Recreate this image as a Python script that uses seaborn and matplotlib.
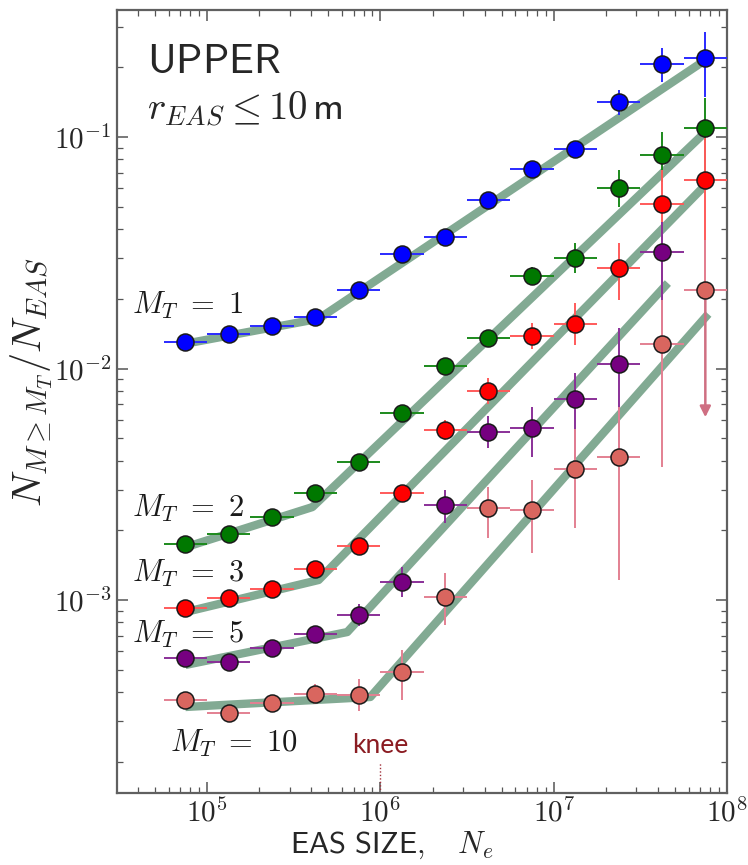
import numpy as np
import pandas as pd
import matplotlib
matplotlib.use("Agg")
import matplotlib.pyplot as plt
import seaborn as sns
from matplotlib.ticker import LogLocator, FuncFormatter, NullFormatter

# ---- data -------------------------------------------------------------
# EAS size bins: centres and edges
ne_centres = [7.5e4, 1.33e5, 2.37e5, 4.2e5, 7.5e5, 1.33e6, 2.37e6,
              4.2e6, 7.5e6, 1.33e7, 2.37e7, 4.2e7, 7.5e7]
ne_edges = [5.62e4, 1.0e5, 1.78e5, 3.16e5, 5.62e5, 1.0e6, 1.78e6,
            3.16e6, 5.62e6, 1.0e7, 1.78e7, 3.16e7, 5.62e7, 1.0e8]

# fraction of showers with multiplicity >= M_T, with error-bar ends
mt1_y = [0.0130, 0.0141, 0.0153, 0.0167, 0.0218, 0.0313, 0.0370,
         0.0535, 0.0728, 0.0888, 0.1416, 0.2066, 0.2193]
mt1_lo = [0.0127, 0.0138, 0.0150, 0.0163, 0.0212, 0.0304, 0.0358,
          0.0516, 0.0700, 0.0836, 0.1244, 0.1727, 0.1487]
mt1_hi = [0.0133, 0.0144, 0.0156, 0.0171, 0.0224, 0.0322, 0.0382,
          0.0555, 0.0757, 0.0943, 0.1596, 0.2430, 0.2840]

mt2_y = [1.75e-3, 1.93e-3, 2.29e-3, 2.90e-3, 3.95e-3, 6.43e-3, 1.026e-2,
         1.355e-2, 2.51e-2, 3.00e-2, 6.02e-2, 8.36e-2, 0.109]
mt2_lo = [1.70e-3, 1.87e-3, 2.22e-3, 2.81e-3, 3.83e-3, 6.20e-3, 9.8e-3,
          1.27e-2, 2.30e-2, 2.58e-2, 4.98e-2, 6.40e-2, 6.96e-2]
mt2_hi = [1.80e-3, 1.99e-3, 2.36e-3, 2.99e-3, 4.07e-3, 6.67e-3, 1.075e-2,
          1.45e-2, 2.74e-2, 3.48e-2, 7.20e-2, 0.105, 0.148]

mt3_y = [9.23e-4, 1.02e-3, 1.12e-3, 1.36e-3, 1.71e-3, 2.90e-3, 5.42e-3,
         7.99e-3, 1.38e-2, 1.555e-2, 2.72e-2, 5.14e-2, 6.52e-2]
mt3_lo = [8.95e-4, 9.9e-4, 1.085e-3, 1.31e-3, 1.64e-3, 2.73e-3, 4.91e-3,
          7.02e-3, 1.213e-2, 1.262e-2, 1.98e-2, 1.98e-2, 2.19e-2]
mt3_hi = [9.5e-4, 1.05e-3, 1.155e-3, 1.41e-3, 1.78e-3, 3.08e-3, 5.98e-3,
          9.09e-3, 1.57e-2, 1.916e-2, 3.49e-2, 7.2e-2, 9.9e-2]

mt5_y = [5.61e-4, 5.39e-4, 6.21e-4, 7.13e-4, 8.61e-4, 1.197e-3, 2.57e-3,
         5.32e-3, 5.53e-3, 7.38e-3, 1.045e-2, 3.18e-2]
mt5_lo = [5.35e-4, 5.14e-4, 5.92e-4, 6.70e-4, 7.7e-4, 1.031e-3, 2.15e-3,
          4.54e-3, 4.14e-3, 4.06e-3, 4.23e-3, 1.46e-2]
mt5_hi = [5.88e-4, 5.65e-4, 6.51e-4, 7.60e-4, 9.6e-4, 1.39e-3, 2.98e-3,
          6.24e-3, 6.81e-3, 9.6e-3, 1.495e-2, 4.29e-2]

mt10_y = [3.70e-4, 3.25e-4, 3.59e-4, 3.93e-4, 3.89e-4, 4.89e-4, 1.03e-3,
          2.49e-3, 2.45e-3, 3.68e-3, 4.15e-3, 1.277e-2, 2.18e-2]
mt10_lo = [3.55e-4, 3.12e-4, 3.35e-4, 3.56e-4, 3.32e-4, 3.70e-4, 7.8e-4,
           1.86e-3, 1.60e-3, 2.04e-3, 1.22e-3, 3.76e-3, 6.16e-3]
mt10_hi = [3.86e-4, 3.39e-4, 3.85e-4, 4.34e-4, 4.56e-4, 6.09e-4, 1.31e-3,
           3.07e-3, 3.30e-3, 5.48e-3, 6.8e-3, 1.98e-2, 3.58e-2]

# broken power-law fits: vertices (N_e, fraction)
fit1_x = [7.5e4, 4.4e5, 7.5e7]
fit1_y = [1.28e-2, 1.64e-2, 0.215]
fit2_x = [7.5e4, 4.05e5, 7.5e7]
fit2_y = [1.69e-3, 2.52e-3, 0.105]
fit3_x = [7.5e4, 4.4e5, 7.5e7]
fit3_y = [8.87e-4, 1.22e-3, 6.2e-2]
fit5_x = [7.5e4, 6.44e5, 4.56e7]
fit5_y = [5.24e-4, 7.27e-4, 2.34e-2]
fit10_x = [7.5e4, 8.75e5, 7.8e7]
fit10_y = [3.45e-4, 3.81e-4, 1.72e-2]

labels = [r"$M_T\ =\ 1$", r"$M_T\ =\ 2$", r"$M_T\ =\ 3$",
          r"$M_T\ =\ 5$", r"$M_T\ =\ 10$"]
knee_ne = 1.0e6

# ---- style ------------------------------------------------------------
sns.set_style("ticks")
plt.rcParams["mathtext.fontset"] = "cm"
plt.rcParams["font.family"] = ["DejaVu Sans"]

fig = plt.figure(figsize=(7.48, 8.65), dpi=100)
ax = fig.add_axes([0.1564, 0.0832, 0.8155, 0.9052])
ax.set_xscale("log")
ax.set_yscale("log")

fit_colour = "#82aa93"
series = [
    (mt1_y, mt1_lo, mt1_hi, fit1_x, fit1_y, "#0000ff", "#2a2aff"),
    (mt2_y, mt2_lo, mt2_hi, fit2_x, fit2_y, "#007800", "#1c8a1c"),
    (mt3_y, mt3_lo, mt3_hi, fit3_x, fit3_y, "#ff0000", "#ff5a5a"),
    (mt5_y, mt5_lo, mt5_hi, fit5_x, fit5_y, "#760080", "#8a3098"),
    (mt10_y, mt10_lo, mt10_hi, fit10_x, fit10_y, "#d9665f", "#e38092"),
]

centres = np.array(ne_centres)
edges = np.array(ne_edges)

for y, lo, hi, fx, fy, face, bar in series:
    fit = pd.DataFrame({"ne": fx, "frac": fy})
    sns.lineplot(data=fit, x="ne", y="frac", ax=ax, color=fit_colour,
                 lw=6, sort=False, estimator=None, zorder=2,
                 solid_capstyle="butt")

for idx, (y, lo, hi, fx, fy, face, bar) in enumerate(series):
    n = len(y)
    x = centres[:n]
    y = np.array(y)
    lo = np.array(lo)
    hi = np.array(hi)
    xerr = [x - edges[:n], edges[1:n + 1] - x]
    low_err = y - lo
    if idx == 4:
        # last bin of the highest threshold is an upper limit
        low_err = low_err.copy()
        low_err[-1] = 0.0
        ax.annotate("", xy=(x[-1], lo[-1]), xytext=(x[-1], y[-1]),
                    arrowprops=dict(arrowstyle="-|>", color="#cf6f82",
                                    lw=1.8, mutation_scale=16,
                                    shrinkA=0, shrinkB=0),
                    zorder=3)
    ax.errorbar(x, y, xerr=xerr, yerr=[low_err, hi - y], fmt="none",
                ecolor=bar, elinewidth=1.4, capsize=0, zorder=3)
    pts = pd.DataFrame({"ne": x, "frac": y})
    sns.scatterplot(data=pts, x="ne", y="frac", ax=ax, color=face,
                    s=150, edgecolor="#1a1a1a", linewidth=1.1, zorder=4)

# ---- axes -------------------------------------------------------------
ax.set_xlim(3.02e4, 1.0e8)
ax.set_ylim(1.466e-4, 0.3537)

def pow_label(v, pos):
    return r"$10^{%d}$" % int(round(np.log10(v)))

ax.xaxis.set_major_locator(LogLocator(base=10, numticks=10))
ax.yaxis.set_major_locator(LogLocator(base=10, numticks=10))
ax.xaxis.set_minor_locator(LogLocator(base=10, subs=np.arange(2, 10), numticks=20))
ax.yaxis.set_minor_locator(LogLocator(base=10, subs=np.arange(2, 10), numticks=20))
ax.xaxis.set_major_formatter(FuncFormatter(pow_label))
ax.yaxis.set_major_formatter(FuncFormatter(pow_label))
ax.xaxis.set_minor_formatter(NullFormatter())
ax.yaxis.set_minor_formatter(NullFormatter())

ax.tick_params(which="both", direction="in", top=True, right=True,
               color="#555555")
ax.tick_params(which="major", length=8, width=1.1, labelsize=21, pad=4)
ax.tick_params(which="minor", length=4, width=0.9)
for sp in ax.spines.values():
    sp.set_color("#606060")
    sp.set_linewidth(1.6)

ax.set_xlabel(r"$\mathsf{EAS\ SIZE,}\ \ \ N_e$", fontsize=22)
ax.xaxis.set_label_coords(0.451, -0.047)
ax.set_ylabel(r"$N_{M\geq M_T}/N_{EAS}$", fontsize=29)
ax.yaxis.set_label_coords(-0.102, 0.525)

# ---- annotations --------------------------------------------------------
ax.text(0.049, 0.9195, r"$\mathsf{UPPER}$", transform=ax.transAxes,
        fontsize=30, va="baseline", ha="left")
ax.text(0.049, 0.8595, r"$r_{EAS} \leq 10\,\mathsf{m}$", transform=ax.transAxes,
        fontsize=28, va="baseline", ha="left")

label_pos = [(0.0246, 0.6232), (0.0246, 0.364), (0.0246, 0.281),
             (0.0246, 0.202), (0.087, 0.064)]
for lab, (tx, ty) in zip(labels, label_pos):
    ax.text(tx, ty, lab, transform=ax.transAxes, fontsize=22,
            va="center", ha="left", color="#1a1a1a")

ax.text(knee_ne, 0.0613, "knee", transform=ax.get_xaxis_transform(),
        ha="center", va="center", fontsize=19, color="#8b1c22",
        family=["Lato", "DejaVu Sans"])
ax.axvline(knee_ne, ymin=0, ymax=0.04, ls=(0, (1, 1.5)), lw=1.0,
           color="#a0303a")

fig.savefig("out.png", dpi=100)
